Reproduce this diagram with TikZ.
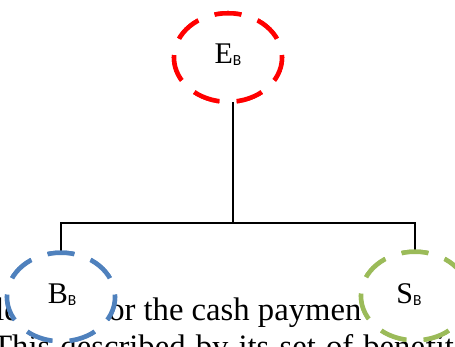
\documentclass[tikz,border=0pt]{standalone}
\usepackage{fontspec}
\setmainfont{Liberation Serif}
\newfontfamily\subfont{Carlito}
\usetikzlibrary{shapes.geometric}
\definecolor{ered}{HTML}{FF0000}
\definecolor{bblue}{HTML}{4F81BD}
\definecolor{sgreen}{HTML}{9BBB59}
\newcommand\lsub[1]{\raisebox{-2.2pt}{\subfont\fontsize{11.6}{14}\selectfont #1}}
\begin{document}
\begin{tikzpicture}[x=0.75pt,y=-0.75pt,
  bubble/.style={ellipse, draw, fill=white, line width=3.4pt, inner sep=0pt, outer sep=0pt,
    minimum width=81pt, minimum height=66.4pt,
    dash pattern=on 20.25pt off 12.9pt, dash phase=18.4pt},
  lab/.style={inner sep=0pt, anchor=base, font=\fontsize{22.5}{27}\selectfont},
  body/.style={inner sep=0pt, anchor=base west, font=\fontsize{24.5}{29}\selectfont},
  link/.style={line width=0.9pt}]
\useasboundingbox (0,0) rectangle (455,347);
\clip (0,0) rectangle (455,347);
% background text
\node[body] (t1) at (-5,320) {ld};
\node[body] (t2) at (108,320) {or the cash paymen};
\node[body] (t3) at (-8,357) {\spaceskip=7.6pt This described by its set of benefit};
% connectors
\coordinate (bar) at (233,223);
\node[bubble, draw=ered] (E) at (228,57.5) {};
\node[bubble, draw=bblue] (B) at (61,297) {};
\node[bubble, draw=sgreen] (S) at (415,296) {};
\draw[link] (bar |- E.south) -- (bar);
\draw[link] (B.north) |- (bar) -| (S.north);
% bubbles again on top of connector ends
\node[bubble, draw=ered] at (E.center) {};
\node[bubble, draw=bblue] at (B.center) {};
\node[bubble, draw=sgreen] at (S.center) {};
% labels
\node[lab] (eL) at (228,63) {E\lsub{B}};
\node[lab] (bL) at (62,303) {B\lsub{B}};
\node[lab] (sL) at (409,303) {S\lsub{B}};
\end{tikzpicture}
\end{document}
